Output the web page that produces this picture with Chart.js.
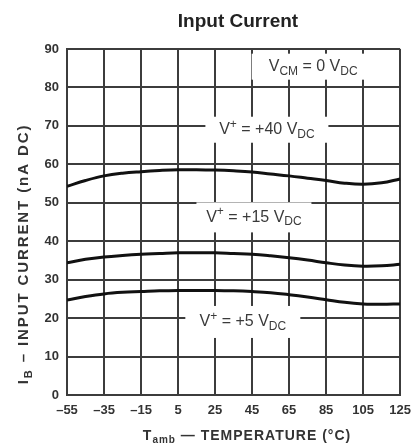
<!DOCTYPE html>
<html>
<head>
<meta charset="utf-8">
<script src="https://cdn.jsdelivr.net/npm/chart.js@4"></script>
<style>
  html, body { margin: 0; padding: 0; background: #fff; }
  #wrap { width: 419px; height: 448px; }
</style>
</head>
<body>
<div id="wrap"><canvas id="chart" width="419" height="448"></canvas></div>
<script>
/* Input current vs ambient temperature, three supply voltages */

const temps = [-55, -45, -35, -25, -15, -5, 5, 15, 25, 35, 45, 55, 65, 75, 85, 95, 105, 115, 125];
const vPlus40 = [54.3, 55.8, 57.0, 57.7, 58.1, 58.4, 58.6, 58.6, 58.5, 58.3, 58.0, 57.5, 57.0, 56.4, 55.8, 55.1, 54.8, 55.2, 56.2];
const vPlus15 = [34.4, 35.3, 35.9, 36.3, 36.6, 36.8, 37.0, 37.0, 37.0, 36.8, 36.6, 36.2, 35.7, 35.1, 34.4, 33.8, 33.5, 33.6, 34.0];
const vPlus5 = [24.7, 25.6, 26.3, 26.7, 26.9, 27.1, 27.2, 27.2, 27.2, 27.1, 26.9, 26.6, 26.1, 25.5, 24.8, 24.1, 23.7, 23.6, 23.7];

const xTicks = [-55, -35, -15, 5, 25, 45, 65, 85, 105, 125];
const yTicks = [0, 10, 20, 30, 40, 50, 60, 70, 80, 90];

// curve labels: [x temp, y value, box width, box height, text parts]
const curveLabels = [
  [78, 85.4, 123, 26, [["V"], ["CM", "sub"], [" = 0 V"], ["DC", "sub"]]],
  [53, 69.0, 123, 26, [["V"], ["+", "sup"], [" = +40 V"], ["DC", "sub"]]],
  [46, 46.2, 115, 30, [["V"], ["+", "sup"], [" = +15 V"], ["DC", "sub"]]],
  [40, 19.0, 115, 32, [["V"], ["+", "sup"], [" = +5 V"], ["DC", "sub"]]]
];

const FONT = "'Liberation Sans', Arial, sans-serif";
const INK = "#333";
const GRID = "#3c3c3c";

function drawRich(ctx, parts, cx, cy, size, weight, spacing) {
  const small = Math.round(size * 0.74);
  const fontFor = p => `${weight} ${p[1] ? small : size}px ${FONT}`;
  ctx.letterSpacing = (spacing || 0) + "px";
  let total = 0;
  parts.forEach(p => { ctx.font = fontFor(p); total += ctx.measureText(p[0]).width; });
  let x = cx - total / 2;
  ctx.textBaseline = "middle";
  ctx.textAlign = "left";
  parts.forEach(p => {
    ctx.font = fontFor(p);
    let dy = 0;
    if (p[1] === "sub") dy = size * 0.3;
    if (p[1] === "sup") dy = -size * 0.33;
    ctx.fillText(p[0], x, cy + dy);
    x += ctx.measureText(p[0]).width;
  });
  ctx.letterSpacing = "0px";
}

const textPlugin = {
  id: "textPlugin",
  afterDatasetsDraw(chart) {
    const ctx = chart.ctx;
    const xs = chart.scales.x, ys = chart.scales.y;
    ctx.save();
    curveLabels.forEach(l => {
      const cx = xs.getPixelForValue(l[0]);
      const cy = ys.getPixelForValue(l[1]);
      ctx.fillStyle = "#fff";
      ctx.fillRect(cx - l[2] / 2, cy - l[3] / 2, l[2], l[3]);
      ctx.fillStyle = "#3a3a3a";
      drawRich(ctx, l[4], cx, cy, 16, "normal");
    });
    ctx.restore();
  },
  afterDraw(chart) {
    const ctx = chart.ctx;
    ctx.save();
    ctx.fillStyle = "#222";
    drawRich(ctx, [["Input Current"]], 238, 22, 19, "bold");
    ctx.fillStyle = INK;
    drawRich(ctx, [["T"], ["amb", "sub"], [" \u2014 TEMPERATURE (\u00B0C)"]], 247, 436, 14, "bold", 1);
    ctx.translate(24, 254);
    ctx.rotate(-Math.PI / 2);
    drawRich(ctx, [["I"], ["B", "sub"], [" \u2013 INPUT CURRENT (nA DC)"]], 0, 0, 15, "bold", 1.9);
    ctx.restore();
  }
};

const curve = (data) => ({
  data: temps.map((t, i) => ({ x: t, y: data[i] })),
  borderColor: "#111",
  borderWidth: 3,
  pointRadius: 0,
  tension: 0.4,
  fill: false
});

new Chart(document.getElementById("chart"), {
  type: "line",
  data: {
    datasets: [curve(vPlus40), curve(vPlus15), curve(vPlus5)]
  },
  options: {
    responsive: false,
    animation: false,
    layout: { padding: { left: 0, top: 49, right: 15, bottom: 0 } },
    plugins: {
      legend: { display: false },
      tooltip: { enabled: false },
      title: { display: false }
    },
    scales: {
      x: {
        type: "linear",
        min: -55,
        max: 125,
        afterBuildTicks: s => { s.ticks = xTicks.map(v => ({ value: v })); },
        afterFit: s => { s.height = 53; },
        grid: { color: GRID, lineWidth: 2, drawTicks: false },
        border: { color: GRID, width: 2 },
        ticks: {
          padding: 8,
          color: INK,
          font: { family: FONT, size: 13, weight: "bold" },
          callback: v => String(v).replace("-", "\u2013")
        }
      },
      y: {
        min: 0,
        max: 90,
        afterBuildTicks: s => { s.ticks = yTicks.map(v => ({ value: v })); },
        afterFit: s => { s.width = 67; },
        grid: { color: GRID, lineWidth: 2, drawTicks: false },
        border: { color: GRID, width: 2 },
        ticks: {
          padding: 8,
          color: INK,
          font: { family: FONT, size: 13, weight: "bold" }
        }
      }
    }
  },
  plugins: [textPlugin]
});
</script>
</body>
</html>
